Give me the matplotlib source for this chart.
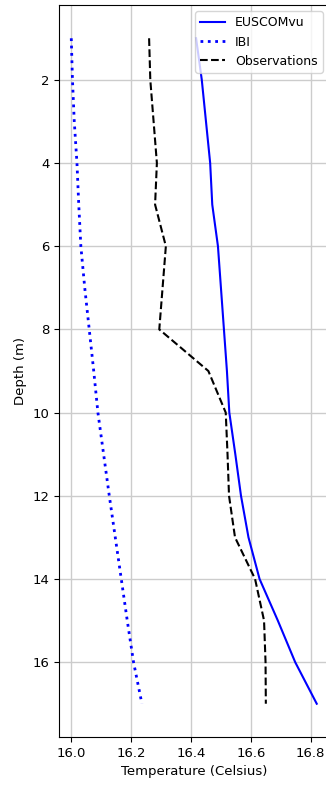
import numpy as np
import matplotlib
matplotlib.use("Agg")
import matplotlib.pyplot as plt

depth = [1, 2, 3, 4, 5, 6, 7, 8, 9, 10, 11, 12, 13, 14, 15, 16, 17]
euscomvu = [16.417, 16.436, 16.450, 16.464, 16.471, 16.490, 16.500, 16.510, 16.520, 16.528,
            16.548, 16.567, 16.592, 16.629, 16.690, 16.748, 16.820]
ibi = [16.000, 16.004, 16.010, 16.019, 16.025, 16.032, 16.045, 16.060, 16.075, 16.089,
       16.108, 16.127, 16.147, 16.167, 16.187, 16.208, 16.236]
obs = [16.260, 16.264, 16.275, 16.286, 16.280, 16.316, 16.305, 16.294, 16.458, 16.516,
       16.522, 16.527, 16.547, 16.614, 16.644, 16.649, 16.650]

fig = plt.figure(figsize=(3.26, 7.88), dpi=100)
ax = fig.add_axes([59/326, 51/788, 270/326, 732/788])

ax.plot(euscomvu, depth, 'b-', label='EUSCOMvu')
ax.plot(ibi, depth, 'b:', linewidth=2, label='IBI')
ax.plot(obs, depth, 'k--', label='Observations')

ax.invert_yaxis()
ax.set_xticks([16.0, 16.2, 16.4, 16.6, 16.8])
ax.set_yticks([2, 4, 6, 8, 10, 12, 14, 16])
ax.set_xlabel('Temperature (Celsius)', fontsize=9.5)
ax.set_ylabel('Depth (m)', fontsize=9.5)
ax.tick_params(labelsize=9.5)
ax.grid(True, color='#cccccc', linewidth=1.0)
ax.legend(loc='upper right', fontsize=9)

fig.savefig('out.png', dpi=100)
